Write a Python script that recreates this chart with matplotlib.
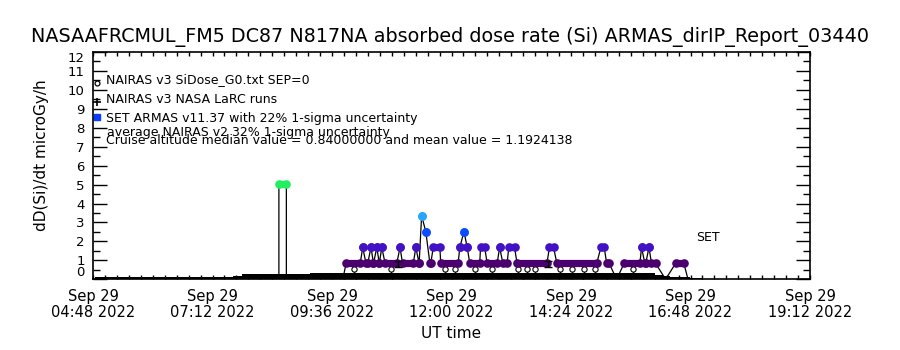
import datetime as dt
import matplotlib
matplotlib.use("Agg")
import matplotlib.pyplot as plt
import matplotlib.dates as mdates
from matplotlib.ticker import MultipleLocator, FixedLocator

W, H = 900, 350
day = "2022-09-29"

title = "NASAAFRCMUL_FM5 DC87 N817NA absorbed dose rate (Si) ARMAS_dirIP_Report_03440"

# NAIRAS v3 SiDose_G0 model (step profile, black band at the bottom)
nairas_times = ["04:50", "07:37", "07:48", "09:09", "16:05", "16:15", "16:23", "16:47", "17:02"]
nairas_dose = [0.10, 0.20, 0.26, 0.34, 0.21, 0.16, 0.12, 0.08, 0.0]

# SET ARMAS dose rate, runs of constant value: start, end, dose (microGy/h)
armas_start = ["04:52", "08:32", "08:41", "09:53", "10:13", "10:17", "10:23", "10:26", "10:30",
               "10:33", "10:36", "10:40", "10:58", "11:01", "11:17", "11:21", "11:24", "11:29",
               "11:34", "11:38", "11:47", "12:10", "12:15", "12:19", "12:22", "12:35", "12:43",
               "12:58", "13:02", "13:09", "13:19", "13:58", "14:07", "15:00", "15:07", "15:19",
               "15:28", "15:49", "15:53", "15:58", "16:01", "16:18", "16:30", "16:45"]
armas_end = ["08:32", "08:41", "09:49", "10:10", "10:13", "10:19", "10:23", "10:26", "10:30",
             "10:33", "10:36", "10:54", "10:58", "11:14", "11:17", "11:21", "11:24", "11:29",
             "11:35", "11:46", "12:08", "12:10", "12:15", "12:19", "12:34", "12:40", "12:55",
             "12:58", "13:07", "13:16", "13:55", "14:03", "14:55", "15:04", "15:10", "15:19",
             "15:47", "15:49", "15:54", "15:58", "16:06", "16:18", "16:40", "17:00"]
armas_dose = [0, 5.04, 0, 0.84, 1.68, 0.84, 1.68, 0.84, 1.68,
              0.84, 1.68, 0.84, 1.68, 0.84, 1.68, 0.84, 3.36, 2.52,
              0.84, 1.68, 0.84, 1.68, 2.52, 1.68, 0.84, 1.68, 0.84,
              1.68, 0.84, 1.68, 0.84, 1.68, 0.84, 1.68, 0.84, 0,
              0.84, 1.68, 0.84, 1.68, 0.84, 0, 0.84, 0]

# short drops of the ARMAS trace
dip_times = ["10:02", "10:47", "11:52", "12:04", "12:28", "12:49", "13:20", "13:31",
             "13:41", "14:11", "14:25", "14:40", "14:53", "15:39"]

# NAIRAS v3 NASA LaRC runs
larc_times = ["10:55", "13:56"]
larc_dose = [0.81, 0.81]
larc_err = [0.15, 0.15]

level_values = [0.84, 1.68, 2.52, 3.36, 5.04]
level_colors = ["#4c0070", "#4212c4", "#0a4cff", "#26a4ff", "#1ef060"]

tick_times = ["04:48", "07:12", "09:36", "12:00", "14:24", "16:48", "19:12"]

legend_lines = ["NAIRAS v3 SiDose_G0.txt SEP=0",
                "NAIRAS v3 NASA LaRC runs",
                "SET ARMAS v11.37 with 22% 1-sigma uncertainty",
                "average NAIRAS v2 32% 1-sigma uncertainty",
                "Cruise altitude median value = 0.84000000 and mean value = 1.1924138"]


def ut(hm):
    return dt.datetime.strptime(day + " " + hm, "%Y-%m-%d %H:%M")


def fx(px):
    return px / W


def fy(py):
    return 1 - py / H


plt.rcParams['font.family'] = ['DejaVu Sans']
fig = plt.figure(figsize=(9, 3.5), dpi=100)
ax = fig.add_axes([fx(93), fy(279.3), fx(810) - fx(93), fy(52) - fy(279.3)])

# NAIRAS band
nt = [ut(t) for t in nairas_times]
ax.fill_between(nt, 0, nairas_dose, step="post", color="black", lw=0, zorder=2)

# ARMAS connecting line
px, py = [], []
for s, e, v in zip(armas_start, armas_end, armas_dose):
    px += [ut(s), ut(e)]
    py += [v, v]
ax.plot(px, py, color="black", lw=0.9, zorder=3)

# dips
for t in dip_times:
    ax.plot([ut(t), ut(t)], [0, 0.84], color="black", lw=0.9, zorder=3)
ax.plot([ut(t) for t in dip_times], [0.57] * len(dip_times), "o", ms=3.8,
        mfc="white", mec="black", mew=0.8, zorder=4)

# ARMAS coloured markers
for s, e, v in zip(armas_start, armas_end, armas_dose):
    if v <= 0:
        continue
    c = level_colors[level_values.index(v)]
    ax.plot([ut(s), ut(e)], [v, v], color=c, lw=5.2, solid_capstyle="round",
            marker="o", ms=6.2, mec=c, mfc=c, mew=0, zorder=5)

# LaRC runs
ax.errorbar([ut(t) for t in larc_times], larc_dose, yerr=larc_err, fmt="none",
            ecolor="black", elinewidth=1.0, capsize=3, capthick=1.0, zorder=6)

ax.text(ut("16:55"), 2.2, "SET", fontsize=9, ha="left", va="center")

# axes
ax.set_xlim(ut("04:48"), ut("19:12"))
ax.set_ylim(0, 12)
ax.xaxis.set_major_locator(FixedLocator([mdates.date2num(ut(t)) for t in tick_times]))
ax.set_xticklabels([ut(t).strftime("%b %d\n%H:%M %Y") for t in tick_times],
                   fontsize=10.5, linespacing=1.05)
ax.xaxis.set_minor_locator(MultipleLocator(0.01))
ax.yaxis.set_major_locator(MultipleLocator(1))
ax.yaxis.set_minor_locator(MultipleLocator(0.5))
ax.set_yticks(range(0, 13))
ylabels = ax.set_yticklabels([str(i) for i in range(0, 13)], fontsize=9.5)
ylabels[0].set_va("bottom")
ylabels[-1].set_va("top")

ax.tick_params(axis="y", which="major", direction="in", length=10, width=1.0,
               left=True, right=True, pad=6)
ax.tick_params(axis="y", which="minor", direction="in", length=5, width=1.0,
               left=True, right=True)
ax.tick_params(axis="x", which="both", direction="in", length=3, width=1.0,
               top=True, bottom=True, pad=7)
for sp in ax.spines.values():
    sp.set_linewidth(1.2)

# legend drawn by hand like the original
ax.plot([fx(97)], [fy(82.5)], "o", ms=3.5, mfc="white", mec="black", mew=0.9,
        transform=fig.transFigure, clip_on=False)
ax.plot([fx(97)], [fy(101.5)], "+", ms=6, color="black", mew=1.2,
        transform=fig.transFigure, clip_on=False)
ax.plot([fx(97)], [fy(117.5)], "s", ms=4.2, color="#0a3cff",
        transform=fig.transFigure, clip_on=False)
leg_y = [80, 99, 118, 132, 141]
leg_x = [106, 106, 106, 107, 106]
for x, y, s in zip(leg_x, leg_y, legend_lines):
    fig.text(fx(x), fy(y), s, fontsize=9, ha="left", va="center")

fig.text(0.5, fy(37), title, fontsize=13.8, ha="center", va="center")
fig.text(fx(42), fy(155), "dD(Si)/dt microGy/h", fontsize=11, rotation=90,
         ha="center", va="center")
fig.text(fx(451), fy(333), "UT time", fontsize=11, ha="center", va="center")

fig.savefig("out.png", dpi=100)
